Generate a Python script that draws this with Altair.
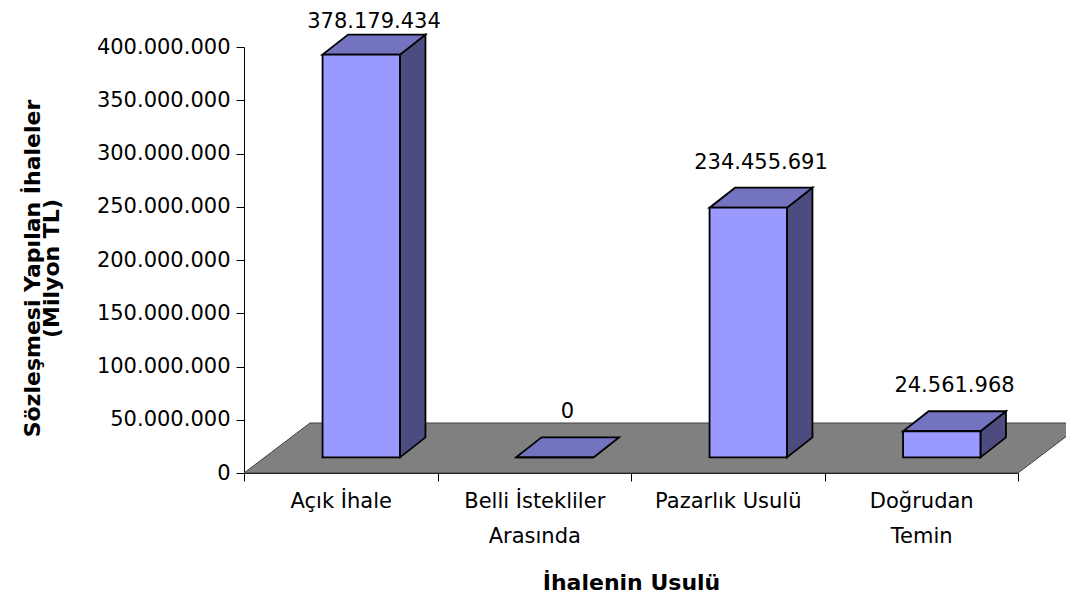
import json
import altair as alt
import pandas as pd

# ---- data ----
categories = ["Açık İhale", "Belli İstekliler\nArasında", "Pazarlık Usulü", "Doğrudan\nTemin"]
values = [378179434, 0, 234455691, 24561968]
y_ticks = [0, 50000000, 100000000, 150000000, 200000000, 250000000, 300000000, 350000000, 400000000]
y_title = ["Sözleşmesi Yapılan İhaleler", "(Milyon TL)"]
x_title = "İhalenin Usulü"

# ---- layout / style ----
WIDTH, HEIGHT = 774, 426
PAD_L, PAD_T = 236, 39
Y_MAX = 400000000
N = len(categories)
PX_X = WIDTH / N
PX_Y = HEIGHT / Y_MAX
FLOOR_D = (66, 50)       # depth vector of the floor, px
BAR_FRONT = (20.5, 15.6)  # offset of bar front plane, px
BAR_BACK = (46.0, 35.6)   # offset of bar back plane, px
HALF = 0.2               # half bar width, category units
FONT = "DejaVu Sans"
FS = 21
TFS = 22
FRONT_C, TOP_C, SIDE_C = "#9999FF", "#7373BF", "#4C4C80"
LABEL_MIN_PX = 47        # highest page y for the label anchor (Excel keeps labels in the chart area)

fxo, fyo = BAR_FRONT[0] / PX_X, BAR_FRONT[1] / PX_Y
bxo, byo = BAR_BACK[0] / PX_X, BAR_BACK[1] / PX_Y
dxo = bxo - fxo

floor = pd.DataFrame({
    "y": [0, FLOOR_D[1] / PX_Y],
    "x": [0, FLOOR_D[0] / PX_X],
    "x2": [N, N + FLOOR_D[0] / PX_X],
})

clamp = (HEIGHT - (LABEL_MIN_PX - (8 + PAD_T))) / PX_Y

front_rows, top_rows, side_rows, lab_rows = [], [], [], []
for i, (c, v) in enumerate(zip(categories, values)):
    cx = i + 0.5
    L, R = cx - HALF + fxo, cx + HALF + fxo
    front_rows.append({"bar": i, "x": L, "x2": R, "y": fyo, "y2": fyo + v})
    top_rows += [
        {"bar": i, "y": fyo + v, "x": L, "x2": R},
        {"bar": i, "y": byo + v, "x": L + dxo, "x2": R + dxo},
    ]
    side_rows += [
        {"bar": i, "x": R, "y": fyo, "y2": fyo + v},
        {"bar": i, "x": R + dxo, "y": byo, "y2": byo + v},
    ]
    lab_rows.append({"x": cx + (fxo + bxo) / 2, "y": min(byo + v, clamp),
                     "t": f"{v:,}".replace(",", ".")})

front = pd.DataFrame(front_rows)
top = pd.DataFrame(top_rows)
side = pd.DataFrame(side_rows)
labs = pd.DataFrame(lab_rows)

xs = alt.Scale(domain=[0, N], nice=False, zero=False)
ys = alt.Scale(domain=[0, Y_MAX], nice=False, zero=False)

cat_js = json.dumps([c.split("\n") for c in categories], ensure_ascii=False)

floor_layer = alt.Chart(floor).mark_area(
    orient="horizontal", color="#808080", stroke="#404040", strokeWidth=1
).encode(
    y=alt.Y("y:Q", scale=ys, stack=None, title=y_title,
            axis=alt.Axis(orient="left", values=y_ticks, tickSize=8, labelPadding=6, grid=False,
                          labelExpr="replace(format(datum.value, ','), regexp(',', 'g'), '.')",
                          titleX=-205, titleY=221, titleAngle=-90, titleBaseline="alphabetic",
                          titleAlign="center", titleFontWeight="bold", titleFontSize=TFS,
                          titleLineHeight=19)),
    x=alt.X("x:Q", scale=xs, stack=None,
            axis=alt.Axis(orient="bottom", values=list(range(N + 1)), tickSize=8, labels=False,
                          title=None, grid=False)),
    x2="x2:Q",
)

side_layer = alt.Chart(side).mark_area(
    orient="vertical", color=SIDE_C, stroke="black", strokeWidth=1.8, strokeJoin="miter"
).encode(
    x=alt.X("x:Q", scale=xs, stack=None, axis=None),
    y=alt.Y("y:Q", scale=ys, stack=None, axis=None),
    y2="y2:Q",
    detail="bar:N",
)

top_layer = alt.Chart(top).mark_area(
    orient="horizontal", color=TOP_C, stroke="black", strokeWidth=1.8, strokeJoin="miter"
).encode(
    y=alt.Y("y:Q", scale=ys, stack=None, axis=None),
    x=alt.X("x:Q", scale=xs, stack=None, axis=None),
    x2="x2:Q",
    detail="bar:N",
)

front_layer = alt.Chart(front).mark_rect(
    color=FRONT_C, stroke="black", strokeWidth=1.8
).encode(
    x=alt.X("x:Q", scale=xs,
            axis=alt.Axis(orient="bottom", values=[i + 0.5 for i in range(N)], ticks=False,
                          domain=False, grid=False, labelExpr=f"{cat_js}[floor(datum.value)]",
                          labelPadding=17, labelLineHeight=35, labelAngle=0,
                          title=x_title, titleFontWeight="bold", titleFontSize=TFS,
                          titleY=116, titleBaseline="alphabetic")),
    x2="x2:Q",
    y=alt.Y("y:Q", scale=ys, axis=None),
    y2="y2:Q",
)

label_layer = alt.Chart(labs).mark_text(
    font=FONT, fontSize=FS, color="black", align="center", baseline="alphabetic", dy=-19
).encode(
    x=alt.X("x:Q", scale=xs, axis=None),
    y=alt.Y("y:Q", scale=ys, axis=None),
    text="t:N",
)

chart = alt.layer(floor_layer, side_layer, top_layer, front_layer, label_layer).resolve_axis(
    x="independent", y="independent"
).properties(
    width=WIDTH, height=HEIGHT,
    autosize=alt.AutoSizeParams(type="none"),
    padding={"left": PAD_L, "top": PAD_T, "right": 1058 - PAD_L - WIDTH,
             "bottom": 586 - PAD_T - HEIGHT},
).configure_view(stroke=None).configure_axis(
    labelFont=FONT, titleFont=FONT, labelFontSize=FS, labelColor="black",
    titleColor="black", domainColor="black", tickColor="black", domainWidth=1,
    tickWidth=1, labelFlush=False, labelOverlap=False,
)

chart.save("out.html", embed_options={"renderer": "svg", "actions": False})
